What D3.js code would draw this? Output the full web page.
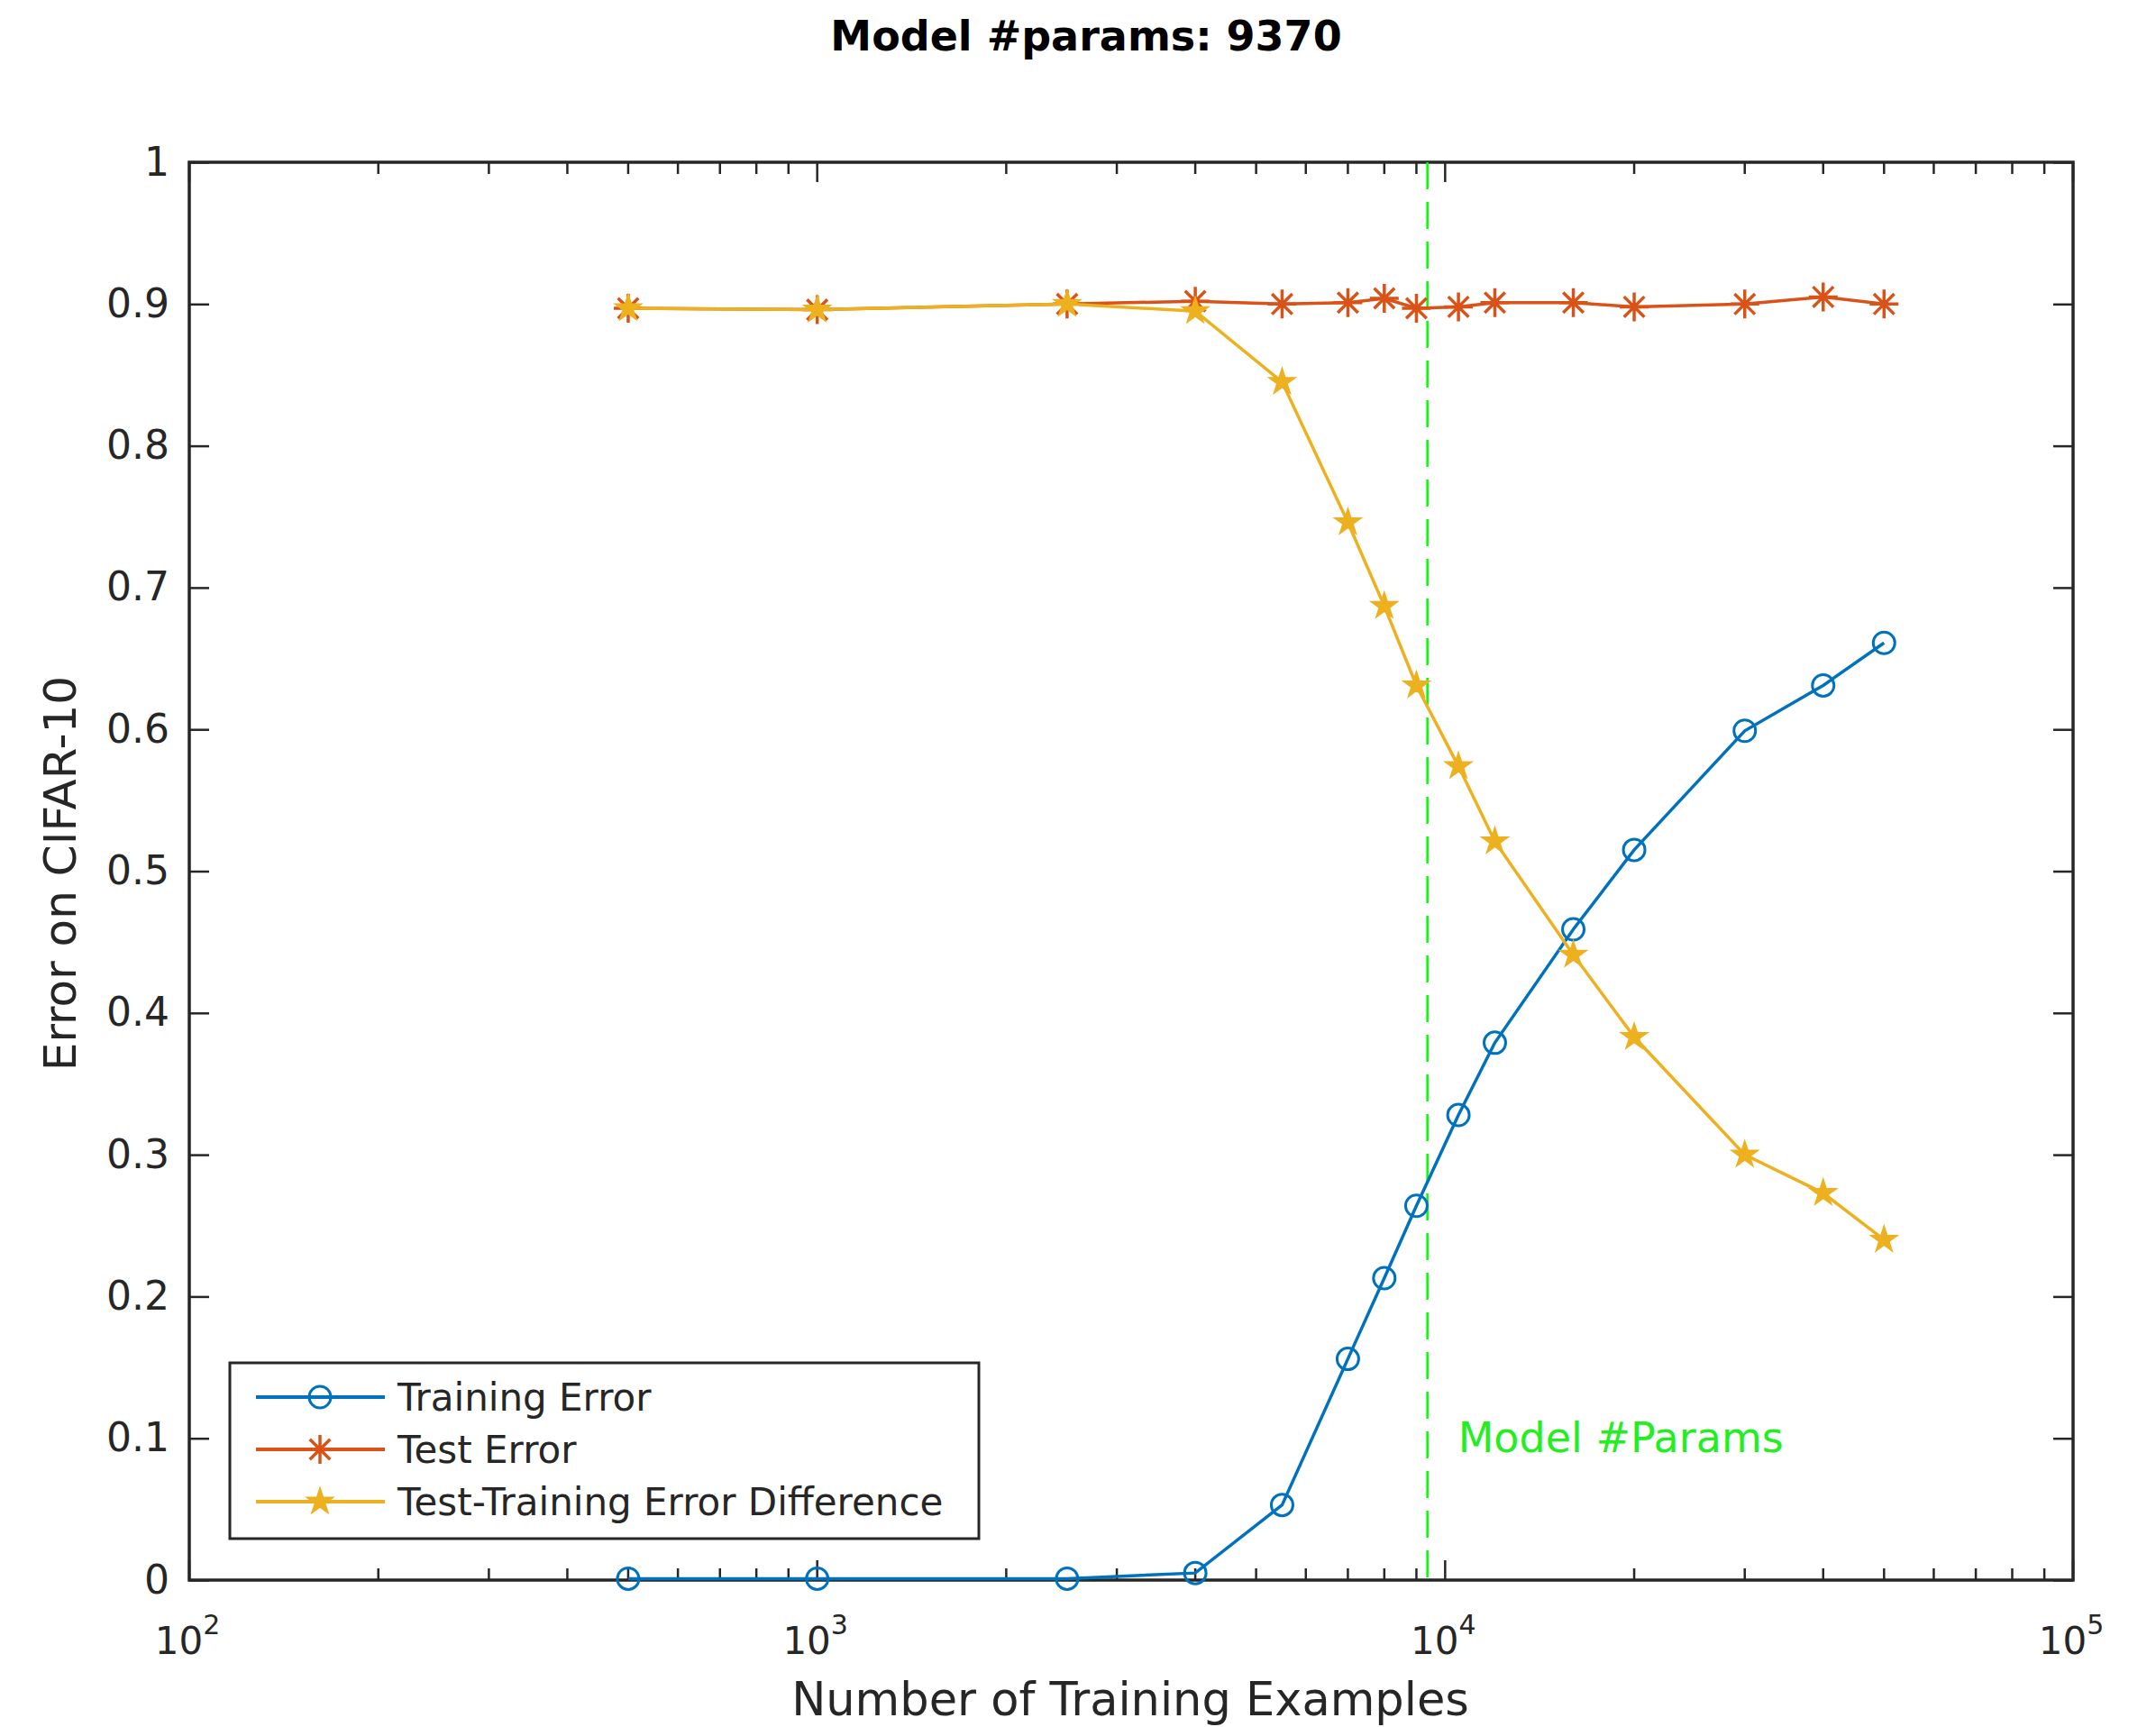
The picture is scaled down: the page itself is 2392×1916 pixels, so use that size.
<!DOCTYPE html>
<html>
<head>
<meta charset="utf-8">
<script src="https://cdn.jsdelivr.net/npm/d3@7"></script>
<style>
  body { margin: 0; background: #fff; }
  text { font-family: "DejaVu Sans", sans-serif; fill: #262626; }
</style>
</head>
<body>
<svg width="2392" height="1916"></svg>
<script>
// data
let examples = [500, 1000, 2500, 4000, 5500, 7000, 8000, 9000, 10500, 12000, 16000, 20000, 30000, 40000, 50000];
let trainError = [0.001, 0.001, 0.001, 0.005, 0.053, 0.156, 0.213, 0.264, 0.328, 0.379, 0.459, 0.515, 0.599, 0.631, 0.661];
let testError = [0.897, 0.896, 0.900, 0.902, 0.900, 0.901, 0.904, 0.897, 0.898, 0.901, 0.901, 0.898, 0.900, 0.905, 0.900];
let diffError = [0.897, 0.896, 0.900, 0.895, 0.845, 0.746, 0.687, 0.631, 0.574, 0.521, 0.441, 0.383, 0.300, 0.273, 0.240];
let modelParams = 9370;
let yTicks = [0, 0.1, 0.2, 0.3, 0.4, 0.5, 0.6, 0.7, 0.8, 0.9, 1];
let xMajor = [100, 1000, 10000, 100000];
let legendNames = ["Training Error", "Test Error", "Test-Training Error Difference"];

let svg = d3.select("svg"),
    margin = {left: 210, right: 92, top: 180, bottom: 163},
    width = 2392 - margin.left - margin.right,
    height = 1916 - margin.top - margin.bottom;

let colors = ["#0072BD", "#D95319", "#EDB120"];

let x = d3.scaleLog().domain([100, 100000]).range([0, width]);
let y = d3.scaleLinear().domain([0, 1]).range([height, 0]);

let g = svg.append("g")
    .attr("transform", "translate(" + [margin.left, margin.top] + ")");

// minor ticks for the log axis
let xMinor = [];
xMajor.slice(0, -1).forEach(m => {
    for (let k = 2; k < 10; k++) xMinor.push(m * k);
});

function addXTicks(sel, dir) {
    sel.selectAll(".minor").data(xMinor).enter().append("line")
        .attr("x1", d => x(d)).attr("x2", d => x(d))
        .attr("y1", 0).attr("y2", dir * 13)
        .attr("stroke", "#262626").attr("stroke-width", 2.5);
    sel.selectAll(".major").data(xMajor).enter().append("line")
        .attr("x1", d => x(d)).attr("x2", d => x(d))
        .attr("y1", 0).attr("y2", dir * 22)
        .attr("stroke", "#262626").attr("stroke-width", 2.5);
}

let bottomAxis = g.append("g").attr("transform", "translate(0," + height + ")");
addXTicks(bottomAxis, -1);
let topAxis = g.append("g");
addXTicks(topAxis, 1);

// y axis ticks, left and right
let yAxisL = d3.axisLeft(y).tickValues(yTicks).tickSize(-22).tickSizeOuter(0)
    .tickFormat(d => d === 0 || d === 1 ? d3.format("d")(d) : d3.format(".1f")(d));
let gy = g.append("g").call(yAxisL);
gy.select(".domain").remove();
gy.selectAll("line").attr("stroke", "#262626").attr("stroke-width", 2.5);
gy.selectAll("text").attr("x", -22).attr("font-size", 44).attr("fill", "#262626");

let gyR = g.append("g").attr("transform", "translate(" + width + ",0)")
    .call(d3.axisRight(y).tickValues(yTicks).tickSize(-22).tickFormat(""));
gyR.select(".domain").remove();
gyR.selectAll("line").attr("stroke", "#262626").attr("stroke-width", 2.5);

// x tick labels as 10^k
let xl = g.append("g").selectAll("text").data(xMajor).enter().append("text")
    .attr("x", d => x(d) - 2)
    .attr("y", height + 82)
    .attr("text-anchor", "middle")
    .attr("font-size", 42);
xl.append("tspan").text("10");
xl.append("tspan").attr("dy", -22).attr("font-size", 30).text(d => Math.round(Math.log10(d)));

// frame
g.append("rect")
    .attr("width", width).attr("height", height)
    .attr("fill", "none").attr("stroke", "#262626").attr("stroke-width", 3.5);

// model #params line
g.append("line")
    .attr("x1", x(modelParams)).attr("x2", x(modelParams))
    .attr("y1", 0).attr("y2", height)
    .attr("stroke", "#00FF00").attr("stroke-width", 2.5)
    .attr("stroke-dasharray", "30,14");

g.append("text")
    .attr("x", x(modelParams) + 34)
    .attr("y", y(0.1) + 15)
    .attr("font-size", 46)
    .style("fill", "#22EE22")
    .text("Model #Params");

// markers
let star = d3.symbol().type(d3.symbolStar).size(240);
function asterisk(r) {
    let a = r * 0.7071;
    return "M" + -r + ",0L" + r + ",0M0," + -r + "L0," + r +
        "M" + -a + "," + -a + "L" + a + "," + a + "M" + -a + "," + a + "L" + a + "," + -a;
}

function drawMarker(sel, i) {
    if (i === 0) {
        sel.append("circle").attr("r", 12)
            .attr("fill", "none").attr("stroke", colors[0]).attr("stroke-width", 3);
    } else if (i === 1) {
        sel.append("path").attr("d", asterisk(16))
            .attr("fill", "none").attr("stroke", colors[1]).attr("stroke-width", 3.5);
    } else {
        sel.append("path").attr("d", star())
            .attr("fill", colors[2]).attr("stroke", colors[2]).attr("stroke-width", 2);
    }
}

let series = [trainError, testError, diffError];
let line = d3.line().x(d => x(d[0])).y(d => y(d[1]));

series.forEach((vals, i) => {
    let pts = examples.map((e, j) => [e, vals[j]]);
    g.append("path")
        .datum(pts)
        .attr("d", line)
        .attr("fill", "none")
        .attr("stroke", colors[i])
        .attr("stroke-width", 3.5);
    g.append("g").selectAll("g").data(pts).enter().append("g")
        .attr("transform", d => "translate(" + [x(d[0]), y(d[1])] + ")")
        .each(function () { drawMarker(d3.select(this), i); });
});

// legend
let legend = g.append("g").attr("transform", "translate(" + [255 - margin.left, 1512 - margin.top] + ")");
legend.append("rect")
    .attr("width", 831).attr("height", 195)
    .attr("fill", "#fff").attr("stroke", "#262626").attr("stroke-width", 3);
legendNames.forEach((name, i) => {
    let row = legend.append("g").attr("transform", "translate(0," + (38 + i * 58) + ")");
    row.append("line").attr("x1", 29).attr("x2", 172)
        .attr("stroke", colors[i]).attr("stroke-width", 4);
    let m = row.append("g").attr("transform", "translate(100,0)");
    drawMarker(m, i);
    row.append("text").attr("x", 186).attr("y", 15)
        .attr("font-size", 42).text(name);
});

// title and axis labels
svg.append("text")
    .attr("x", 1205).attr("y", 56)
    .attr("text-anchor", "middle")
    .attr("font-size", 46).attr("font-weight", "bold")
    .style("fill", "#000")
    .text("Model #params: " + modelParams);

svg.append("text")
    .attr("x", 1254).attr("y", 1903)
    .attr("text-anchor", "middle")
    .attr("font-size", 51)
    .text("Number of Training Examples");

svg.append("text")
    .attr("transform", "translate(84,969) rotate(-90)")
    .attr("text-anchor", "middle")
    .attr("font-size", 50)
    .text("Error on CIFAR-10");
</script>
</body>
</html>
